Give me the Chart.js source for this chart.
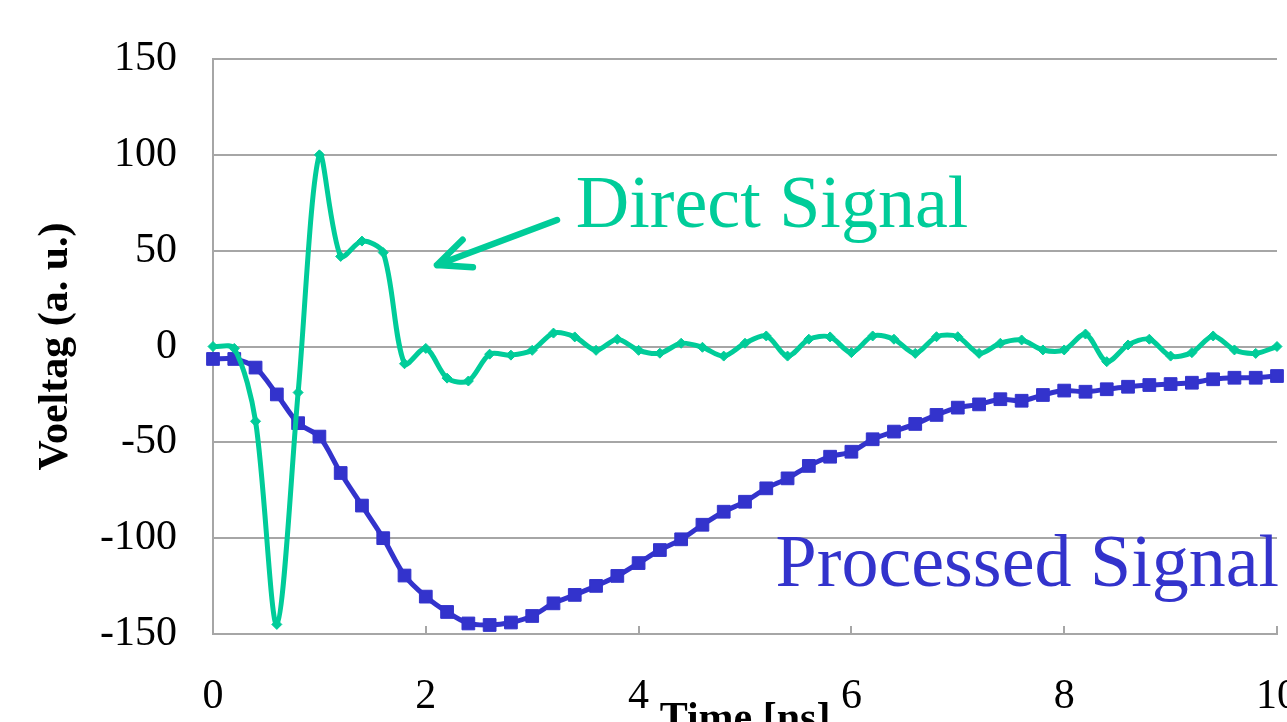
<!DOCTYPE html>
<html>
<head>
<meta charset="utf-8">
<title>Direct vs Processed Signal</title>
<script src="https://cdn.jsdelivr.net/npm/chart.js@4/dist/chart.umd.min.js"></script>
<style>
    html, body { margin: 0; padding: 0; background: #fff; overflow: hidden; }
    #signalChart { display: block; }
</style>
</head>
<body>
<canvas id="signalChart" width="1287" height="760"></canvas>
<script>
// time axis (ns)
const timeNs = [0, 0.2, 0.4, 0.6, 0.8, 1.0, 1.2, 1.4, 1.6, 1.8,
    2.0, 2.2, 2.4, 2.6, 2.8, 3.0, 3.2, 3.4, 3.6, 3.8,
    4.0, 4.2, 4.4, 4.6, 4.8, 5.0, 5.2, 5.4, 5.6, 5.8,
    6.0, 6.2, 6.4, 6.6, 6.8, 7.0, 7.2, 7.4, 7.6, 7.8,
    8.0, 8.2, 8.4, 8.6, 8.8, 9.0, 9.2, 9.4, 9.6, 9.8, 10];

// direct signal (green)
const directSignal = [0, -1, -39, -145, -24, 100, 47, 55, 49, -9,
    -1, -16.5, -18, -4, -4.5, -2, 7, 5, -2, 3.8,
    -2, -3.5, 1.7, -0.4, -5, 1.7, 5.5, -5, 3.8, 5,
    -3.2, 5.5, 3.8, -3.6, 5.1, 5.1, -3.6, 1.7, 3.4, -1.8,
    -1.8, 6.5, -7.9, 0.8, 3.8, -5, -3.2, 5.5, -1.8, -3.6, 0];

// processed signal (blue)
const processedSignal = [-6.5, -6.5, -11, -25, -40, -47, -66, -83, -100, -119.5,
    -130.5, -138.5, -144.5, -145.3, -144, -140.6, -134, -129.6, -124.9, -119.7,
    -113, -106.2, -100.6, -93, -86.2, -81, -74, -68.8, -62.3, -57.5,
    -54.9, -48.4, -44.4, -40.4, -35.7, -31.9, -30.2, -27.5, -28.3, -25.3,
    -23, -23.6, -22.3, -21, -20.1, -19.6, -18.9, -17.1, -16.3, -16.3, -15.4];

// axis ranges and labels
const xTicks = [0, 2, 4, 6, 8, 10];
const yTicks = [-150, -100, -50, 0, 50, 100, 150];
const xTitle = 'Time [ns]';
const yTitle = 'Voeltag (a. u.)';
const directLabel = 'Direct Signal';
const processedLabel = 'Processed Signal';

const GREEN = '#00CC99';
const BLUE = '#3333CC';
const GRID = '#A6A6A6';
const SERIF = '"Liberation Serif", "Times New Roman", serif';

function toPoints(xs, ys) {
    return xs.map((x, i) => ({ x: x, y: ys[i] }));
}

// text labels and arrow drawn on top of the plot
const annotationPlugin = {
    id: 'annotations',
    afterDatasetsDraw(chart) {
        const ctx = chart.ctx;
        const xs = chart.scales.x;
        const ys = chart.scales.y;
        ctx.save();

        ctx.font = '74px ' + SERIF;
        ctx.textBaseline = 'alphabetic';
        ctx.fillStyle = GREEN;
        ctx.textAlign = 'left';
        ctx.fillText(directLabel, xs.getPixelForValue(3.41), ys.getPixelForValue(62.5));

        ctx.fillStyle = BLUE;
        ctx.textAlign = 'right';
        ctx.fillText(processedLabel, xs.getPixelForValue(10.02), ys.getPixelForValue(-125));

        // arrow pointing at the direct signal
        const x1 = xs.getPixelForValue(3.233), y1 = ys.getPixelForValue(66);
        const x2 = xs.getPixelForValue(2.105), y2 = ys.getPixelForValue(42.5);
        const ang = Math.atan2(y1 - y2, x1 - x2);
        const headLen = 36, headAng = 0.42;
        ctx.strokeStyle = GREEN;
        ctx.lineWidth = 6.5;
        ctx.lineCap = 'round';
        ctx.lineJoin = 'round';
        ctx.beginPath();
        ctx.moveTo(x1, y1);
        ctx.lineTo(x2, y2);
        ctx.moveTo(x2 + headLen * Math.cos(ang - headAng), y2 + headLen * Math.sin(ang - headAng));
        ctx.lineTo(x2, y2);
        ctx.lineTo(x2 + headLen * Math.cos(ang + headAng), y2 + headLen * Math.sin(ang + headAng));
        ctx.stroke();
        ctx.restore();
    }
};

document.addEventListener('DOMContentLoaded', function() {
    const ctx = document.getElementById('signalChart').getContext('2d');

    new Chart(ctx, {
        type: 'line',
        data: {
            datasets: [{
                label: directLabel,
                data: toPoints(timeNs, directSignal),
                borderColor: GREEN,
                backgroundColor: GREEN,
                borderWidth: 5,
                tension: 0.3,
                pointStyle: 'rectRot',
                pointRadius: 5,
                pointBorderWidth: 1,
                clip: false
            }, {
                label: processedLabel,
                data: toPoints(timeNs, processedSignal),
                borderColor: BLUE,
                backgroundColor: BLUE,
                borderWidth: 5,
                tension: 0.3,
                pointStyle: 'rect',
                pointRadius: 9,
                pointBorderWidth: 1,
                clip: false
            }]
        },
        options: {
            responsive: false,
            animation: false,
            layout: { padding: { top: 59, right: 10, left: 0, bottom: 0 } },
            plugins: {
                legend: { display: false },
                tooltip: { enabled: false }
            },
            scales: {
                x: {
                    type: 'linear',
                    min: xTicks[0],
                    max: xTicks[xTicks.length - 1],
                    afterBuildTicks: function(scale) {
                        scale.ticks = xTicks.map(v => ({ value: v }));
                    },
                    afterFit: function(scale) {
                        scale.height = 126;
                        scale.paddingLeft = 0;
                        scale.paddingRight = 0;
                    },
                    grid: {
                        drawOnChartArea: false,
                        drawTicks: true,
                        tickLength: -8,
                        color: GRID,
                        lineWidth: 2
                    },
                    border: { display: true, color: GRID, width: 2 },
                    ticks: {
                        color: '#000',
                        font: { family: SERIF, size: 42 },
                        padding: 46,
                        maxRotation: 0
                    },
                    title: {
                        display: true,
                        text: xTitle,
                        color: '#000',
                        font: { family: SERIF, size: 42, weight: 'bold' },
                        padding: { top: 0, bottom: 15 }
                    }
                },
                y: {
                    min: yTicks[0],
                    max: yTicks[yTicks.length - 1],
                    afterBuildTicks: function(scale) {
                        scale.ticks = yTicks.map(v => ({ value: v }));
                    },
                    afterFit: function(scale) {
                        scale.width = 213;
                        scale.paddingTop = 0;
                        scale.paddingBottom = 0;
                    },
                    grid: {
                        drawTicks: false,
                        color: GRID,
                        lineWidth: 2
                    },
                    border: { display: true, color: GRID, width: 2 },
                    ticks: {
                        color: '#000',
                        font: { family: SERIF, size: 42 },
                        padding: 36
                    },
                    title: {
                        display: true,
                        text: yTitle,
                        color: '#000',
                        font: { family: SERIF, size: 42, weight: 'bold' },
                        padding: { top: 31, bottom: 0 }
                    }
                }
            }
        },
        plugins: [annotationPlugin]
    });
});
</script>
</body>
</html>
